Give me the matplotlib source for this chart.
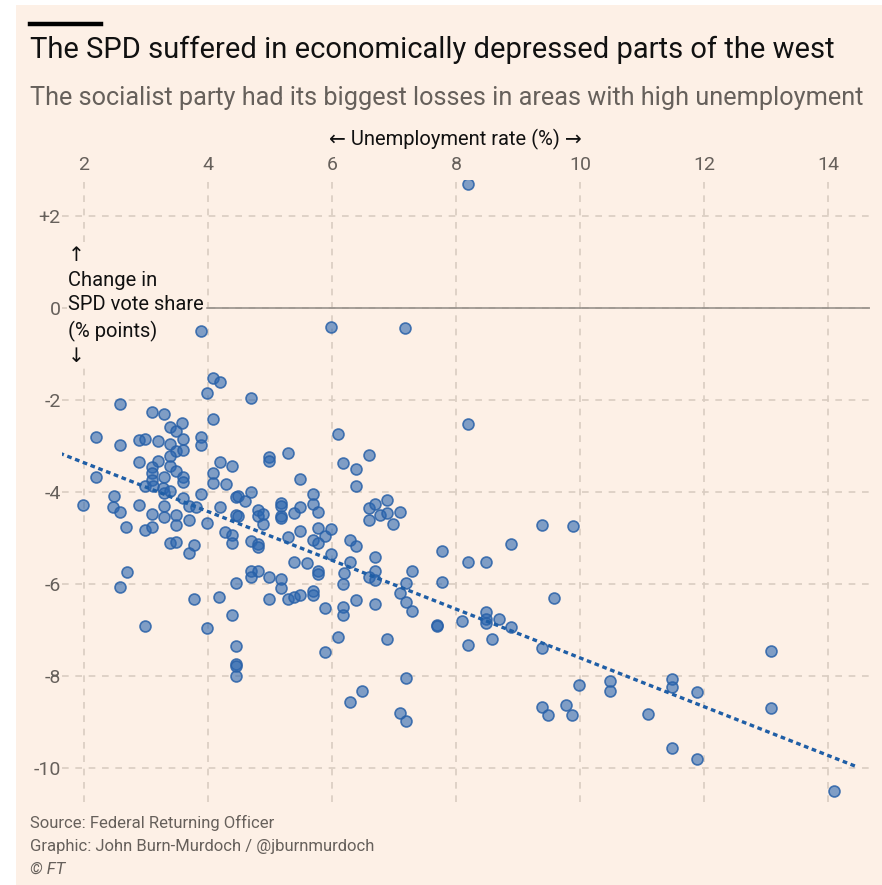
import matplotlib
matplotlib.use("Agg")
import matplotlib.pyplot as plt
from matplotlib.lines import Line2D
from matplotlib.patches import Rectangle

# =========================
# Data
# =========================
unemployment = [
    8.19, 3.88, 5.98, 7.18, 4.08, 4.19, 3.99, 4.69, 2.58, 3.10,
    3.29, 3.58, 3.39, 3.48, 4.08, 2.19, 2.58, 2.88, 2.99, 3.19,
    3.39, 3.59, 3.89, 3.89, 3.49, 3.59, 3.39, 2.88, 3.19, 4.19,
    4.39, 3.10, 3.39, 3.10, 3.48, 4.08, 2.19, 3.29, 3.59, 3.59,
    3.10, 4.08, 4.29, 2.99, 3.12, 3.28, 3.29, 3.39, 3.89, 4.46,
    2.48, 1.98, 2.47, 2.58, 2.88, 3.29, 3.59, 3.69, 3.80, 4.19,
    4.46, 3.10, 3.29, 3.48, 3.69, 3.48, 3.99, 2.68, 2.99, 3.10,
    4.28, 4.39, 4.39, 3.39, 3.48, 3.78, 3.69, 2.69, 2.58, 4.46,
    3.77, 4.18, 4.38, 2.99, 3.99, 4.46, 4.46, 4.46, 4.46, 6.09,
    5.29, 4.99, 4.99, 6.18, 6.39, 6.59, 6.39, 5.48, 4.49, 4.59,
    4.69, 4.49, 4.80, 4.80, 4.89, 4.89, 5.18, 5.18, 5.18, 5.18,
    5.39, 5.48, 5.69, 5.69, 5.78, 5.48, 5.29, 5.78, 5.88, 5.99,
    5.69, 5.78, 6.29, 6.39, 6.59, 6.69, 6.89, 6.78, 6.89, 6.59,
    7.09, 6.99, 4.69, 4.80, 4.80, 5.99, 6.29, 6.69, 5.39, 5.59,
    5.78, 5.78, 4.69, 4.80, 4.69, 4.99, 5.18, 5.18, 6.19, 6.18,
    6.69, 6.59, 6.69, 7.29, 7.19, 7.09, 7.19, 7.29, 4.99, 5.29,
    5.39, 5.48, 5.69, 5.69, 5.88, 6.39, 6.69, 6.18, 6.18, 6.09,
    5.88, 6.89, 7.19, 6.48, 6.29, 7.09, 7.19, 8.19, 9.39, 9.89,
    8.89, 7.78, 8.19, 8.49, 7.78, 7.69, 7.69, 8.09, 8.49, 8.49,
    8.49, 8.69, 8.89, 8.59, 8.19, 9.58, 9.39, 9.99, 10.48, 10.48,
    9.39, 9.49, 9.78, 9.88, 11.10, 11.49, 11.49, 11.49, 11.89, 11.89,
    13.09, 13.09, 14.10,
]
vote_change = [
    2.70, -0.51, -0.41, -0.43, -1.52, -1.60, -1.85, -1.95, -2.09, -2.26,
    -2.30, -2.51, -2.59, -2.67, -2.41, -2.80, -2.99, -2.87, -2.86, -2.89,
    -2.96, -2.86, -2.80, -2.98, -3.11, -3.09, -3.23, -3.35, -3.32, -3.35,
    -3.43, -3.46, -3.43, -3.59, -3.54, -3.59, -3.67, -3.68, -3.67, -3.78,
    -3.74, -3.81, -3.83, -3.87, -3.88, -3.92, -4.03, -3.99, -4.04, -4.10,
    -4.09, -4.28, -4.32, -4.43, -4.29, -4.30, -4.14, -4.30, -4.32, -4.32,
    -4.51, -4.48, -4.55, -4.51, -4.62, -4.71, -4.67, -4.77, -4.83, -4.77,
    -4.88, -4.93, -5.10, -5.12, -5.09, -5.16, -5.32, -5.75, -6.06, -5.97,
    -6.33, -6.28, -6.68, -6.91, -6.96, -7.35, -7.74, -7.79, -8.01, -2.75,
    -3.15, -3.25, -3.32, -3.38, -3.51, -3.20, -3.88, -3.71, -4.09, -4.19,
    -4.00, -4.52, -4.39, -4.52, -4.48, -4.70, -4.23, -4.30, -4.52, -4.57,
    -4.46, -4.32, -4.04, -4.26, -4.43, -4.84, -4.97, -4.78, -4.96, -4.80,
    -5.04, -5.10, -5.04, -5.17, -4.36, -4.26, -4.17, -4.51, -4.45, -4.62,
    -4.43, -4.70, -5.06, -5.14, -5.20, -5.35, -5.52, -5.41, -5.52, -5.55,
    -5.72, -5.78, -5.72, -5.72, -5.84, -5.85, -5.90, -6.09, -5.77, -6.01,
    -5.72, -5.85, -5.91, -5.71, -5.99, -6.19, -6.39, -6.58, -6.33, -6.33,
    -6.28, -6.23, -6.16, -6.25, -6.52, -6.35, -6.43, -6.51, -6.68, -7.16,
    -7.48, -7.20, -8.04, -8.33, -8.57, -8.80, -8.98, -2.52, -4.71, -4.75,
    -5.14, -5.29, -5.52, -5.52, -5.96, -6.90, -6.92, -6.80, -6.62, -6.77,
    -6.84, -6.77, -6.93, -7.19, -7.32, -6.30, -7.39, -8.20, -8.10, -8.32,
    -8.68, -8.85, -8.64, -8.85, -8.83, -8.07, -8.23, -9.57, -8.35, -9.80,
    -7.45, -8.70, -10.51,
]

# trend line end points
trend_x = [1.48, 14.46]
trend_y = [-3.09, -9.97]

x_ticks = [2, 4, 6, 8, 10, 12, 14]
y_ticks = [-10, -8, -6, -4, -2, 0, 2]
y_tick_labels = ["-10", "-8", "-6", "-4", "-2", "0", "+2"]

# =========================
# Style
# =========================
BG = "#fdf0e6"
GREY = "#66605b"
GRID = "#d9cdc1"

plt.rcParams["font.family"] = ["Roboto", "DejaVu Sans"]

W, H = 882, 885
fig = plt.figure(figsize=(W / 100, H / 100), dpi=100, facecolor="white")
fig.patches.append(Rectangle((16 / W, 0), 1 - 16 / W, 1 - 5 / H,
                             transform=fig.transFigure, facecolor=BG,
                             edgecolor="none", zorder=-10))

ax = fig.add_axes([62 / W, 1 - 802 / H, (870 - 62) / W, (802 - 180) / H])
ax.patch.set_alpha(0)
ax.set_xlim(1.645, 14.68)
ax.set_ylim(-10.74, 2.78)

for s in ax.spines.values():
    s.set_visible(False)

ax.set_xticks(x_ticks)
ax.set_yticks(y_ticks)
ax.set_yticklabels(y_tick_labels)
ax.tick_params(axis="x", top=True, bottom=False, labeltop=True, labelbottom=False,
               length=0, pad=4, labelsize=14, labelcolor=GREY)
ax.tick_params(axis="y", length=0, pad=1, labelsize=14, labelcolor=GREY)
ax.grid(True, color=GRID, linestyle=(0, (4, 4)), linewidth=1.2, zorder=0)
ax.set_axisbelow(True)

# zero line (starts where the y-axis label ends)
ax.axhline(0, xmin=0.18, color="#8f8984", linewidth=1.1, zorder=1)

# y-axis label sits on a pink box over the grid, under the dots
ax.text(1.742, 0.04, "\u2191\nChange in\nSPD vote share\n(% points)\n\u2193",
        ha="left", va="center", fontsize=14.5, color="#111111",
        linespacing=1.38, zorder=2,
        bbox=dict(facecolor=BG, edgecolor="none", pad=1.0))

ax.scatter(unemployment, vote_change, s=62,
           facecolor=(0.17, 0.40, 0.69, 0.6),
           edgecolor=(0.16, 0.38, 0.66, 0.85), linewidth=1.2, zorder=3)

ax.plot(trend_x, trend_y, color="#1f5ea6", linewidth=2.4,
        linestyle=(0, (1.4, 1.1)), zorder=4)

# =========================
# Titles and footer
# =========================
fig.add_artist(Line2D([30 / W, 101 / W], [1 - 24 / H, 1 - 24 / H],
                      color="black", linewidth=3.2))
fig.text(30 / W, 1 - 50 / H,
         "The SPD suffered in economically depressed parts of the west",
         ha="left", va="center", fontsize=21, color="#111111")
fig.text(30 / W, 1 - 98 / H,
         "The socialist party had its biggest losses in areas with high unemployment",
         ha="left", va="center", fontsize=18.2, color=GREY)
fig.text(455 / W, 1 - 139 / H, "\u2190 Unemployment rate (%) \u2192",
         ha="center", va="center", fontsize=14.5, color="#111111")

fig.text(30 / W, 1 - 823 / H, "Source: Federal Returning Officer",
         ha="left", va="center", fontsize=12, color=GREY)
fig.text(30 / W, 1 - 846 / H, "Graphic: John Burn-Murdoch / @jburnmurdoch",
         ha="left", va="center", fontsize=12, color=GREY)
fig.text(30 / W, 1 - 869 / H, "\u00a9 FT",
         ha="left", va="center", fontsize=12, color=GREY, style="italic")

fig.savefig("out.png", dpi=100, facecolor=fig.get_facecolor())
